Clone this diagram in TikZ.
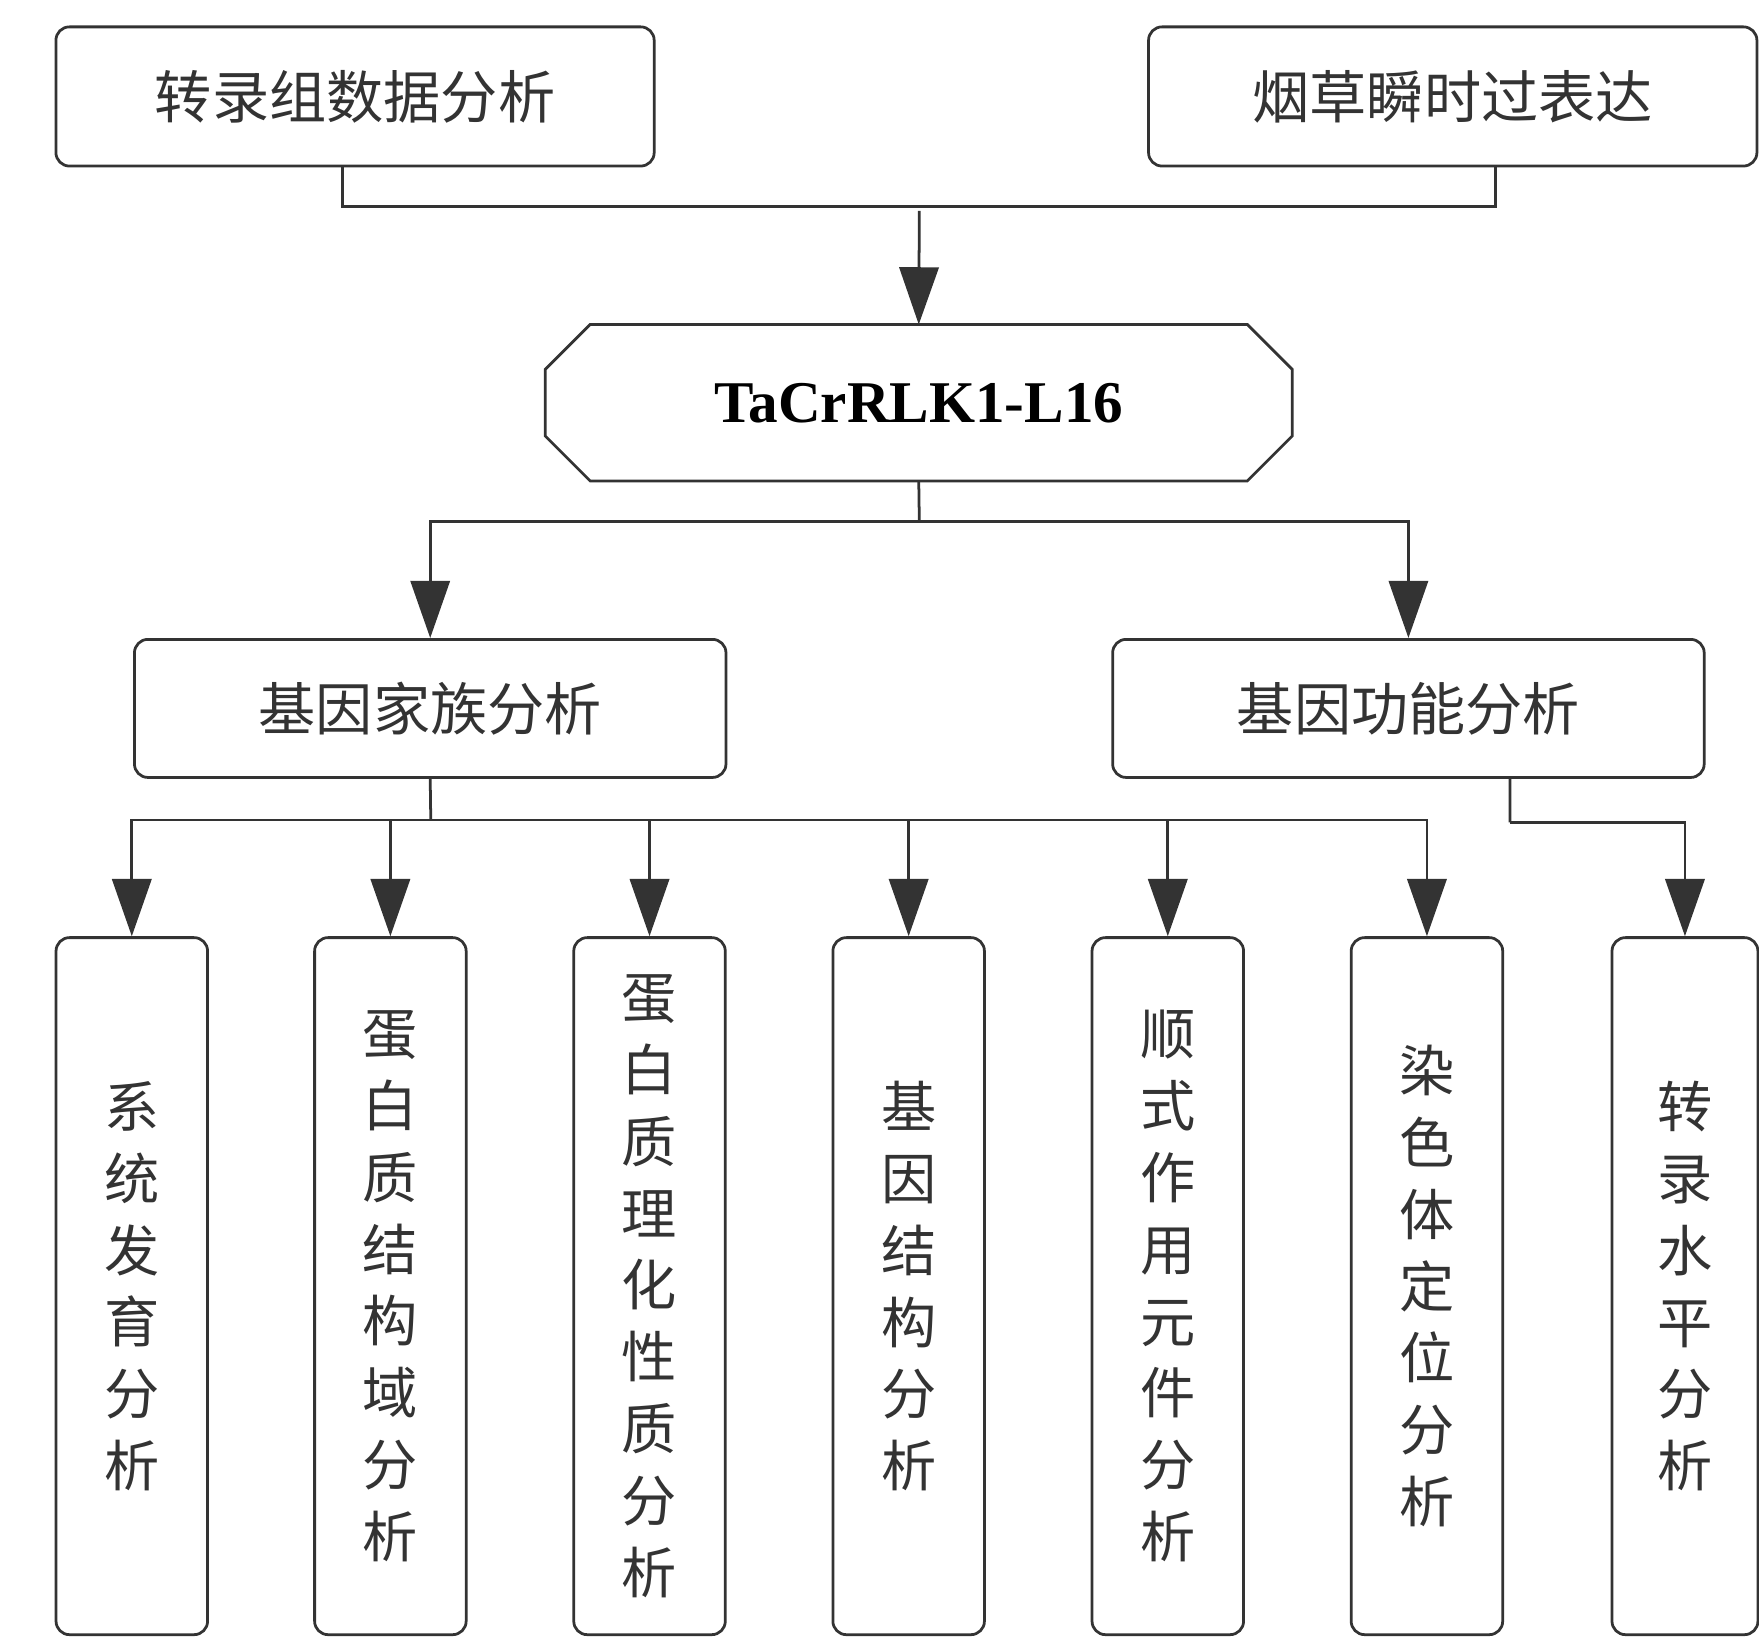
\documentclass[tikz,border=0pt]{standalone}
\usepackage{fontspec}
\setmainfont{Noto Sans CJK SC}
\newfontfamily\tnr{Liberation Serif}
\usetikzlibrary{arrows.meta}
\definecolor{ln}{HTML}{333333}
\begin{document}
\begin{tikzpicture}[x=0.01cm,y=-0.01cm,
  rbox/.style={draw=ln, line width=0.7pt, rounded corners=0.12cm, text=ln, inner sep=0pt},
  topbox/.style={rbox, minimum height=1.24cm, font=\fontsize{14.5pt}{17pt}\selectfont},
  vbox/.style={rbox, minimum width=1.35cm, minimum height=6.21cm, align=center, font=\fontsize{14pt}{18.2pt}\selectfont},
  conn/.style={draw=ln, line width=0.7pt},
  arr/.style={conn, -{Triangle[width=0.35cm,length=0.51cm,fill=ln]}}]
\useasboundingbox (0,0) rectangle (1568,1464);
% top boxes
\node[topbox, minimum width=5.33cm] (A) at (316.5,86) {转录组数据分析};
\node[topbox, minimum width=5.42cm] (B) at (1295,86) {烟草瞬时过表达};
% octagon
\node[minimum width=6.64cm, minimum height=1.38cm, inner sep=0pt, font=\tnr\bfseries\fontsize{15pt}{18pt}\selectfont] (T) at (819,359) {TaCrRLK1-L16};
\draw[conn] ([xshift=0.4cm]T.north west) -- ([xshift=-0.4cm]T.north east) -- ([yshift=-0.4cm]T.north east) -- ([yshift=0.4cm]T.south east) -- ([xshift=-0.4cm]T.south east) -- ([xshift=0.4cm]T.south west) -- ([yshift=0.4cm]T.south west) -- ([yshift=-0.4cm]T.north west) -- cycle;
% second row
\node[topbox, minimum width=5.27cm, minimum height=1.23cm] (C) at (383.5,631.5) {基因家族分析};
\node[topbox, minimum width=5.27cm, minimum height=1.23cm] (D) at (1255.5,631.5) {基因功能分析};
% bottom row
\node[vbox] (b1) at (117.5,1146.5) {系\\统\\发\\育\\分\\析};
\node[vbox] (b2) at (348,1146.5) {蛋\\白\\质\\结\\构\\域\\分\\析};
\node[vbox] (b3) at (579,1146.5) {蛋\\白\\质\\理\\化\\性\\质\\分\\析};
\node[vbox] (b4) at (810,1146.5) {基\\因\\结\\构\\分\\析};
\node[vbox] (b5) at (1041,1146.5) {顺\\式\\作\\用\\元\\件\\分\\析};
\node[vbox] (b6) at (1272,1146.5) {染\\色\\体\\定\\位\\分\\析};
\node[vbox, minimum width=1.3cm] (b7) at (1502,1146.5) {转\\录\\水\\平\\分\\析};
% junctions
\coordinate (J) at (819.5,184);
\coordinate (K) at (819.5,465);
\coordinate (L) at (384,731);
\coordinate (M) at (1346,733);
% connectors
\draw[conn] ([xshift=-0.115cm]A.south) |- (J) -| ([xshift=0.38cm]B.south);
\draw[arr] ([yshift=-0.04cm]J) -- (T.north);
\draw[conn] (T.south) -- (K);
\draw[arr] (K) -| (C.north);
\draw[arr] (K) -| (D.north);
\draw[conn] (C.south) -- (L);
\foreach \b in {b1,b2,b3,b4,b5,b6}{\draw[arr] (L) -| (\b.north);}
\draw[conn] ([xshift=0.905cm]D.south) -- (M);
\draw[arr] (M) -| (b7.north);
\end{tikzpicture}
\end{document}
